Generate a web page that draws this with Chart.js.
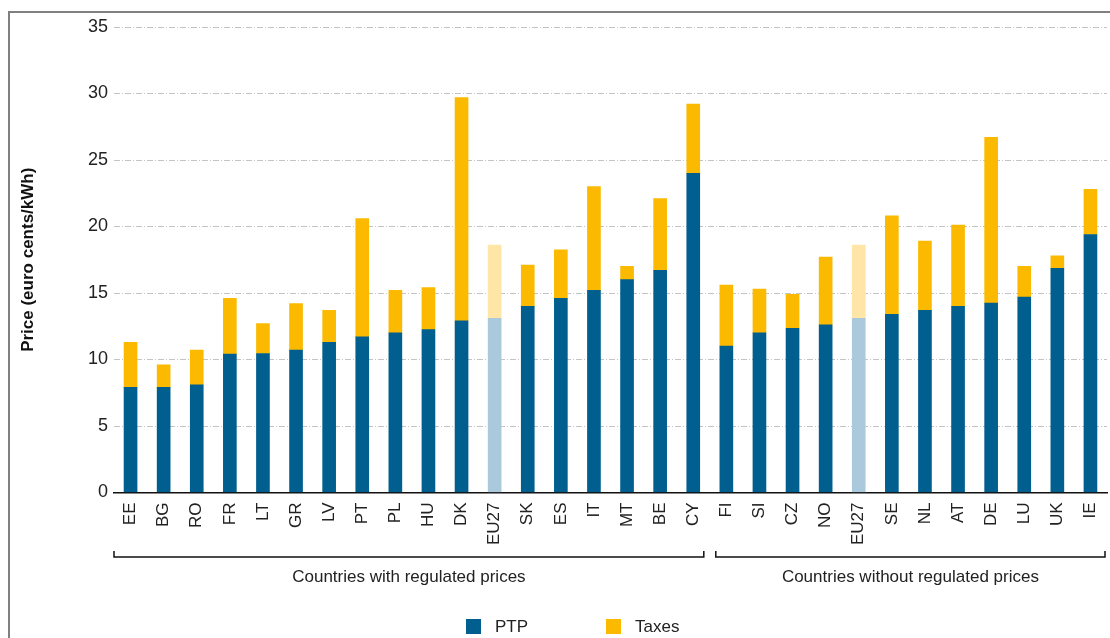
<!DOCTYPE html>
<html>
<head>
<meta charset="utf-8">
<title>Electricity prices</title>
<script src="https://cdn.jsdelivr.net/npm/chart.js@4.4.1/dist/chart.umd.min.js"></script>
<style>
  html, body { margin: 0; padding: 0; background: #fff; }
  #wrap { width: 1110px; height: 638px; }
</style>
</head>
<body>
<div id="wrap"><canvas id="priceChart" width="1110" height="638"></canvas></div>
<script>
// data (euro cents/kWh)
const countries = ['EE', 'BG', 'RO', 'FR', 'LT', 'GR', 'LV', 'PT', 'PL', 'HU', 'DK', 'EU27', 'SK', 'ES', 'IT', 'MT', 'BE', 'CY',
                   'FI', 'SI', 'CZ', 'NO', 'EU27', 'SE', 'NL', 'AT', 'DE', 'LU', 'UK', 'IE'];
const ptp = [7.9, 7.9, 8.1, 10.4, 10.45, 10.7, 11.3, 11.7, 12.0, 12.25, 12.9, 13.1, 14.0, 14.6, 15.2, 16.0, 16.7, 24.0,
             11.0, 12.0, 12.35, 12.6, 13.1, 13.4, 13.7, 14.0, 14.25, 14.7, 16.85, 19.4];
const taxes = [3.4, 1.7, 2.6, 4.2, 2.25, 3.5, 2.4, 8.9, 3.2, 3.15, 16.8, 5.5, 3.1, 3.65, 7.8, 1.0, 5.4, 5.2,
               4.6, 3.3, 2.55, 5.1, 5.5, 7.4, 5.2, 6.1, 12.45, 2.3, 0.95, 3.4];
const yTicks = [0, 5, 10, 15, 20, 25, 30, 35];
// groups: first and last category index
const groups = [
  { label: 'Countries with regulated prices', from: 0, to: 17 },
  { label: 'Countries without regulated prices', from: 18, to: 29 }
];

const BLUE = '#005f8f';
const YELLOW = '#fbba00';
const BLUE_LIGHT = '#abc9dd';
const YELLOW_LIGHT = '#ffe5a6';
const FONT = '"Liberation Sans Narrow", "Liberation Sans", Arial, sans-serif';

const ptpColors = countries.map(c => c === 'EU27' ? BLUE_LIGHT : BLUE);
const taxColors = countries.map(c => c === 'EU27' ? YELLOW_LIGHT : YELLOW);

// frame, brackets, group labels and legend
const extrasPlugin = {
  id: 'extras',
  beforeDraw(chart) {
    const ctx = chart.ctx;
    ctx.save();
    ctx.fillStyle = '#fff';
    ctx.fillRect(0, 0, chart.width, chart.height);
    ctx.strokeStyle = '#808080';
    ctx.lineWidth = 2;
    ctx.strokeRect(9, 12, chart.width + 20, chart.height + 20);
    ctx.restore();
  },
  afterDraw(chart) {
    const ctx = chart.ctx;
    const x = chart.scales.x;
    const half = (x.getPixelForValue(1) - x.getPixelForValue(0)) / 2;
    const lineY = 557;
    ctx.save();
    ctx.strokeStyle = '#111';
    ctx.lineWidth = 1.5;
    ctx.fillStyle = '#222';
    ctx.font = '17px ' + FONT;
    ctx.textAlign = 'center';
    ctx.textBaseline = 'middle';
    groups.forEach((g, i) => {
      let left = x.getPixelForValue(g.from) - half;
      let right = x.getPixelForValue(g.to) + half;
      if (i > 0) left += 6;
      if (i < groups.length - 1) right -= 6; else right -= 2;
      ctx.beginPath();
      ctx.moveTo(left, lineY - 6);
      ctx.lineTo(left, lineY);
      ctx.lineTo(right, lineY);
      ctx.lineTo(right, lineY - 6);
      ctx.stroke();
      ctx.fillText(g.label, (left + right) / 2, 577);
    });

    // legend
    const legendPos = [466, 606];
    ctx.textAlign = 'left';
    ctx.font = '17px ' + FONT;
    chart.data.datasets.forEach((ds, i) => {
      const lx = legendPos[i];
      ctx.fillStyle = i === 0 ? BLUE : YELLOW;
      ctx.fillRect(lx, 619, 15, 15);
      ctx.fillStyle = '#222';
      ctx.fillText(ds.label, lx + 29, 627);
    });
    ctx.restore();
  }
};

const ctx = document.getElementById('priceChart');
new Chart(ctx, {
  type: 'bar',
  data: {
    labels: countries,
    datasets: [
      { label: 'PTP', data: ptp, backgroundColor: ptpColors, barThickness: 13 },
      { label: 'Taxes', data: taxes, backgroundColor: taxColors, barThickness: 13 }
    ]
  },
  options: {
    responsive: false,
    animation: false,
    layout: { padding: { top: 27, left: 12, right: 3, bottom: 0 } },
    plugins: {
      legend: { display: false },
      tooltip: { enabled: false }
    },
    scales: {
      x: {
        stacked: true,
        grid: { display: false },
        border: { display: true, color: '#111', width: 1.5 },
        ticks: {
          autoSkip: false,
          maxRotation: 90,
          minRotation: 90,
          padding: 2,
          color: '#222',
          font: { family: FONT, size: 17 }
        },
        afterFit(scale) {
          scale.height = 145.5;
          scale.paddingLeft = 0;
          scale.paddingRight = 0;
        }
      },
      y: {
        stacked: true,
        min: 0,
        max: 35,
        afterBuildTicks(scale) { scale.ticks = yTicks.map(v => ({ value: v })); },
        grid: { color: '#c4c4c4', lineWidth: 1, drawTicks: false },
        border: { display: false, dash: [6, 2, 1, 2] },
        ticks: {
          padding: 6,
          color: '#222',
          font: { family: FONT, size: 18 }
        },
        title: {
          display: true,
          text: 'Price (euro cents/kWh)',
          color: '#111',
          font: { family: FONT, size: 17, weight: 'bold' },
          padding: { top: 6, bottom: 0 }
        },
        afterFit(scale) { scale.width = 102; }
      }
    }
  },
  plugins: [extrasPlugin]
});
</script>
</body>
</html>
